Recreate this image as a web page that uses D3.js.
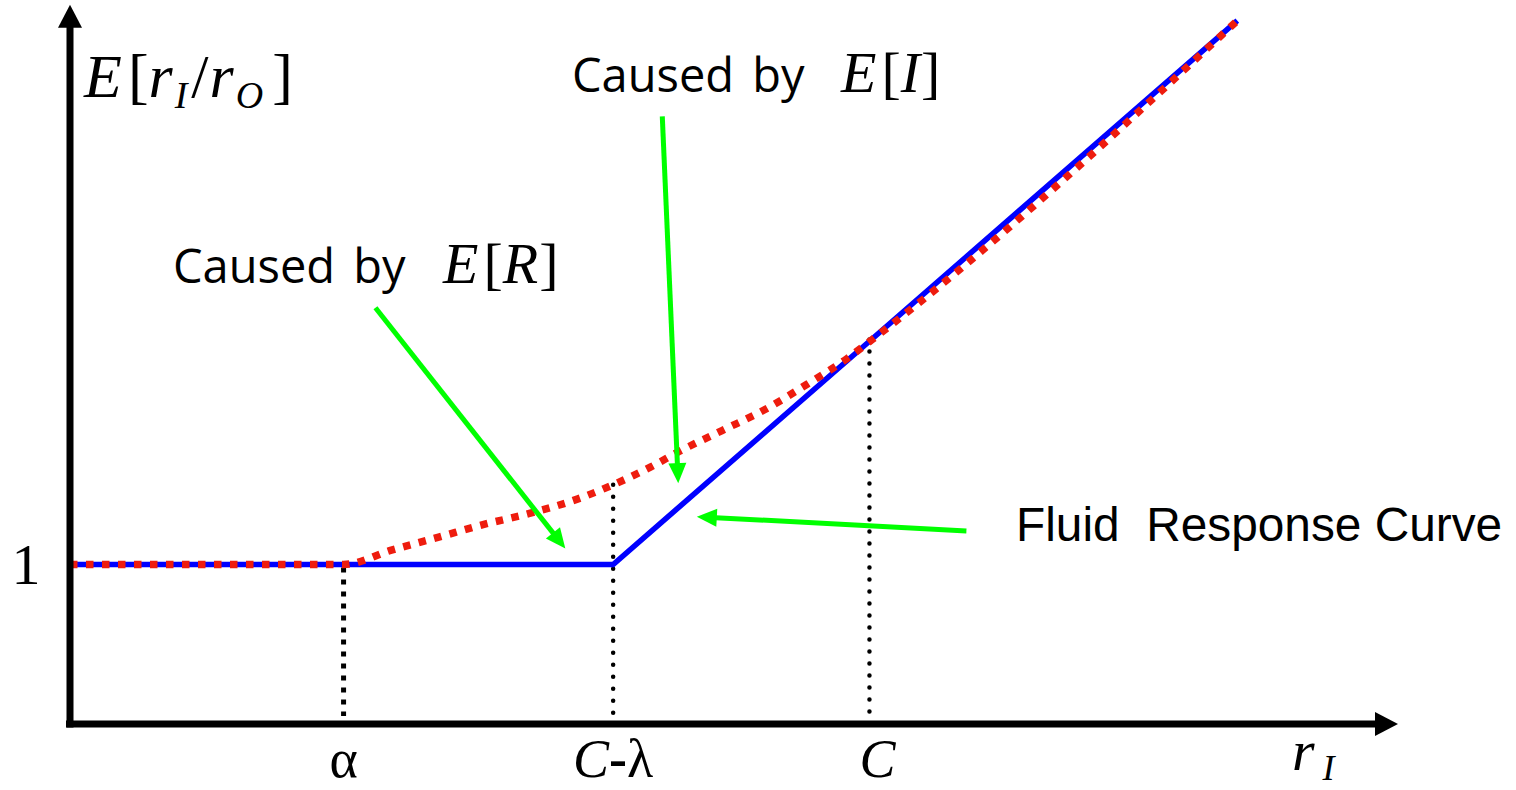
<!DOCTYPE html>
<html>
<head>
<meta charset="utf-8">
<script src="https://cdn.jsdelivr.net/npm/d3@7"></script>
<style>
  html, body { margin: 0; padding: 0; background: #fff; }
  svg { display: block; }
</style>
</head>
<body>
<svg id="chart" width="1516" height="790"></svg>
<script>
// ---------------- DATA (abstract units) ----------------
// Fluid response curve (blue, solid)
const blueX = [0, 4.09, 6.02, 8.79];
const blueY = [1, 1, 2.40, 4.41];
// Expected ratio curve (red, dotted)
const redX = [0, 2.06, 2.42, 2.77, 3.11, 3.46, 3.82, 4.09, 4.37, 4.59, 4.91, 5.23, 5.55, 5.85, 6.04, 8.79];
const redY = [1, 1, 1.09, 1.17, 1.25, 1.32, 1.41, 1.50, 1.61, 1.71, 1.84, 1.97, 2.13, 2.29, 2.41, 4.41];
// x tick labels and positions
const tickLabels = ["α", "C-λ", "C"];
const tickValues = [2.06, 4.09, 6.02];
// vertical guide lines (top value at each tick)
const guideTops = [1, 1.50, 2.41];
// y tick
const yTickValues = [1];
const yTickLabels = ["1"];
// annotation arrows (from -> to, in data units)
const arrowFromX = [2.30, 4.46, 6.75];
const arrowFromY = [2.61, 3.81, 1.21];
const arrowToX = [3.73, 4.58, 4.72];
const arrowToY = [1.10, 1.51, 1.30];
// axis extents
const xMax = 10, yMax = 4.51;

// ---------------- LAYOUT ----------------
const svg = d3.select("#chart");
const x = d3.scaleLinear().domain([0, xMax]).range([70, 1398]);
const y = d3.scaleLinear().domain([0, 1]).range([724, 564.5]);

const GREEN = "#00ff00", RED = "#ee1c0e", BLUE = "#0000ff";

function arrow(g, x1, y1, x2, y2, w, headLen, headHalf, color) {
  const dx = x2 - x1, dy = y2 - y1, L = Math.hypot(dx, dy);
  const ux = dx / L, uy = dy / L, nx = -uy, ny = ux;
  const bx = x2 - ux * headLen, by = y2 - uy * headLen;
  g.append("line")
    .attr("x1", x1).attr("y1", y1)
    .attr("x2", bx + ux * 1).attr("y2", by + uy * 1)
    .attr("stroke", color).attr("stroke-width", w);
  g.append("polygon")
    .attr("points", [[x2, y2], [bx + nx * headHalf, by + ny * headHalf], [bx - nx * headHalf, by - ny * headHalf]].map(p => p.join(",")).join(" "))
    .attr("fill", color);
}

// vertical dotted guides
tickValues.forEach((v, i) => {
  const l = svg.append("line")
    .attr("x1", x(v)).attr("x2", x(v))
    .attr("y1", y(guideTops[i]) + (i === 0 ? 3 : 0))
    .attr("y2", y(0) - 8)
    .attr("stroke", "#000");
  if (i === 0) {
    l.attr("stroke-width", 5).attr("stroke-dasharray", "5,7");
  } else {
    l.attr("stroke-width", 4.5).attr("stroke-linecap", "round").attr("stroke-dasharray", "0,12");
  }
});

// blue curve
const lineGen = d3.line().x(d => x(d[0])).y(d => y(d[1]));
svg.append("path")
  .datum(blueX.map((v, i) => [v, blueY[i]]))
  .attr("d", lineGen)
  .attr("fill", "none").attr("stroke", BLUE).attr("stroke-width", 5.5)
  .attr("stroke-linejoin", "miter");

// red dotted curve
const redGen = d3.line().x(d => x(d[0])).y(d => y(d[1])).curve(d3.curveMonotoneX);
svg.append("path")
  .datum(redX.map((v, i) => [v, redY[i]]))
  .attr("d", redGen)
  .attr("fill", "none").attr("stroke", RED).attr("stroke-width", 7.5)
  .attr("stroke-dasharray", "7.5,8.5");

// axes
const axes = svg.append("g");
arrow(axes, x(0) - 4, y(0), x(xMax), y(0), 7, 23, 12, "#000");
arrow(axes, x(0), y(0) + 3.5, x(0), y(yMax), 7, 23, 12, "#000");

// green annotation arrows
const ann = svg.append("g");
arrowFromX.forEach((v, i) => {
  arrow(ann, x(v), y(arrowFromY[i]), x(arrowToX[i]), y(arrowToY[i]), 5, 20, 9, GREEN);
});

// ---------------- TEXT ----------------
const SERIF = "'Liberation Serif', 'Times New Roman', serif";
const SANS = "'Open Sans', 'DejaVu Sans', sans-serif";
const ARIAL = "'Liberation Sans', Arial, sans-serif";

// y tick label "1"
yTickValues.forEach((v, i) => {
  svg.append("text")
    .attr("x", 26).attr("y", y(v) + 19)
    .attr("text-anchor", "middle")
    .attr("font-family", SERIF).attr("font-size", 58)
    .text(yTickLabels[i]);
});

// x tick labels
tickLabels.forEach((lab, i) => {
  const t = svg.append("text")
    .attr("x", x(tickValues[i]) + (i === 2 ? 8 : 0)).attr("y", 777)
    .attr("text-anchor", "middle")
    .attr("font-family", SERIF).attr("font-size", 54);
  if (lab === "C-λ") {
    t.append("tspan").attr("font-style", "italic").text("C");
    t.append("tspan").attr("font-weight", "bold").text("-");
    t.append("tspan").text("λ");
  } else if (lab === "C") {
    t.append("tspan").attr("font-style", "italic").text("C");
  } else {
    t.text(lab);
  }
});

// x axis title r_I
const xt = svg.append("text")
  .attr("x", 1292).attr("y", 770)
  .attr("font-family", SERIF).attr("font-style", "italic").attr("font-size", 58);
xt.append("tspan").text("r");
xt.append("tspan").attr("font-size", 36).attr("dx", 8).attr("dy", 10).text("I");

// math text laid out in natural flow with small extra gaps
function mathText(x0, y0, size, subSize, parts) {
  const t = svg.append("text").attr("x", x0).attr("y", y0)
    .attr("font-family", SERIF).attr("font-size", size);
  let lvl = 0;
  parts.forEach(p => {
    const s = t.append("tspan").attr("dx", p.gap || 0).text(p.t);
    const target = p.sub ? 11 : 0;
    if (target !== lvl) { s.attr("dy", target - lvl); lvl = target; }
    if (p.it) s.attr("font-style", "italic");
    if (p.sub) s.attr("font-size", subSize);
  });
  return t;
}
mathText(84, 97, 62, 38, [
  { t: "E", it: true },
  { t: "[", gap: 6 },
  { t: "r", it: true },
  { t: "I", it: true, sub: true, gap: 2 },
  { t: "/", gap: 4 },
  { t: "r", it: true, gap: 1 },
  { t: "O", it: true, sub: true, gap: 2 },
  { t: "]", gap: 9 }
]);

// annotation texts
function caused(xs, ys, xm, sym) {
  svg.append("text")
    .attr("x", xs).attr("y", ys)
    .attr("font-family", SANS).attr("font-size", 47)
    .attr("word-spacing", 6)
    .text("Caused by");
  mathText(xm, ys, 58, 38, [
    { t: "E", it: true },
    { t: "[", gap: 5 },
    { t: sym, it: true },
    { t: "]", gap: 1 }
  ]);
}
caused(173, 283, 443, "R");
caused(572, 92, 841, "I");

svg.append("text")
  .attr("x", 1016).attr("y", 541)
  .attr("font-family", ARIAL).attr("font-size", 47.8)
  .attr("xml:space", "preserve")
  .style("white-space", "pre")
  .text("Fluid  Response Curve");
</script>
</body>
</html>
